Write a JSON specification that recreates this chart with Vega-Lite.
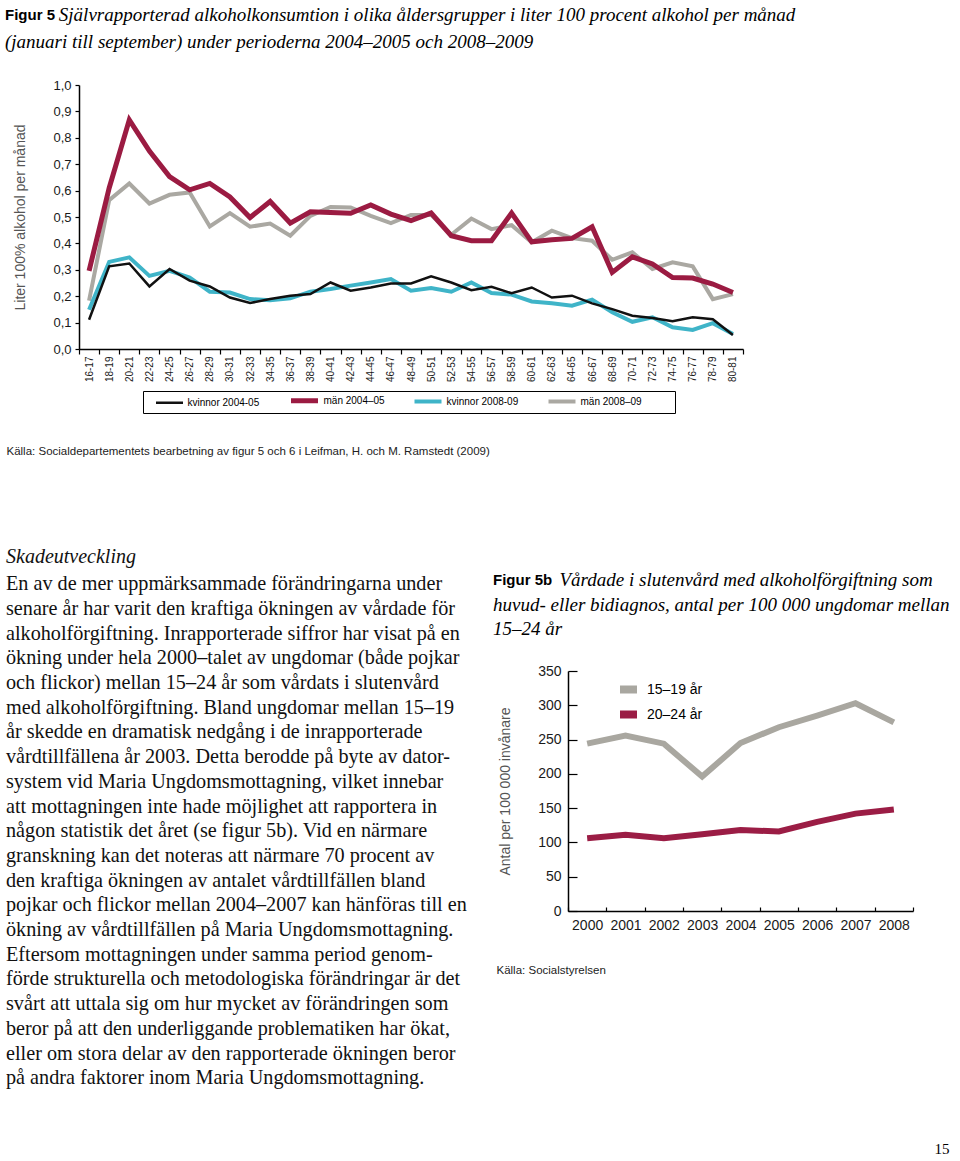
{
  "$schema": "https://vega.github.io/schema/vega-lite/v6.json",
  "background": "white",
  "padding": {"left": 5, "top": 6, "right": 0, "bottom": 0},
  "title": {"text": "15", "orient": "bottom", "anchor": "end", "font": "Liberation Serif", "fontSize": 15, "fontWeight": "normal", "color": "#000", "offset": 37},
  "columns": 1,
  "spacing": 78,
  "resolve": {
    "scale": {"color": "independent", "strokeWidth": "independent"},
    "legend": {"color": "independent", "strokeWidth": "independent"}
  },
  "config": {
    "view": {"stroke": null},
    "font": "Liberation Sans",
    "axis": {"grid": false, "domainColor": "#000", "tickColor": "#000", "domainWidth": 1.5, "tickWidth": 1.2, "labelColor": "#1a1a1a", "titleColor": "#555", "titleFontWeight": "normal"}
  },
  "concat": [
    {
      "width": 664,
      "height": 264,
      "title": {
        "text": "Figur 5",
        "subtitle": ["\u200b\u2003\u2003\u00a0\u00a0\u00a0\u200aSjälvrapporterad alkoholkonsumtion i olika åldersgrupper i liter 100 procent alkohol per månad", "(januari till september) under perioderna 2004–2005 och 2008–2009"],
        "anchor": "start", "frame": "bounds", "dx": -1,
        "font": "Liberation Sans", "fontSize": 15, "fontWeight": "bold", "color": "#000",
        "subtitleFont": "Liberation Serif", "subtitleFontSize": 19, "subtitleFontStyle": "italic", "subtitleColor": "#000", "subtitleLineHeight": 27, "subtitlePadding": -17,
        "offset": 25
      },
      "data": {"values": [
        {"alder": "16-17", "serie": "män 2008–09", "liter": 0.183},
        {"alder": "18-19", "serie": "män 2008–09", "liter": 0.564},
        {"alder": "20-21", "serie": "män 2008–09", "liter": 0.627},
        {"alder": "22-23", "serie": "män 2008–09", "liter": 0.551},
        {"alder": "24-25", "serie": "män 2008–09", "liter": 0.584},
        {"alder": "26-27", "serie": "män 2008–09", "liter": 0.593},
        {"alder": "28-29", "serie": "män 2008–09", "liter": 0.464},
        {"alder": "30-31", "serie": "män 2008–09", "liter": 0.515},
        {"alder": "32-33", "serie": "män 2008–09", "liter": 0.463},
        {"alder": "34-35", "serie": "män 2008–09", "liter": 0.475},
        {"alder": "36-37", "serie": "män 2008–09", "liter": 0.429},
        {"alder": "38-39", "serie": "män 2008–09", "liter": 0.504},
        {"alder": "40-41", "serie": "män 2008–09", "liter": 0.538},
        {"alder": "42-43", "serie": "män 2008–09", "liter": 0.536},
        {"alder": "44-45", "serie": "män 2008–09", "liter": 0.504},
        {"alder": "46-47", "serie": "män 2008–09", "liter": 0.477},
        {"alder": "48-49", "serie": "män 2008–09", "liter": 0.508},
        {"alder": "50-51", "serie": "män 2008–09", "liter": 0.508},
        {"alder": "52-53", "serie": "män 2008–09", "liter": 0.433},
        {"alder": "54-55", "serie": "män 2008–09", "liter": 0.494},
        {"alder": "56-57", "serie": "män 2008–09", "liter": 0.454},
        {"alder": "58-59", "serie": "män 2008–09", "liter": 0.469},
        {"alder": "60-61", "serie": "män 2008–09", "liter": 0.404},
        {"alder": "62-63", "serie": "män 2008–09", "liter": 0.448},
        {"alder": "64-65", "serie": "män 2008–09", "liter": 0.42},
        {"alder": "66-67", "serie": "män 2008–09", "liter": 0.41},
        {"alder": "68-69", "serie": "män 2008–09", "liter": 0.338},
        {"alder": "70-71", "serie": "män 2008–09", "liter": 0.366},
        {"alder": "72-73", "serie": "män 2008–09", "liter": 0.303},
        {"alder": "74-75", "serie": "män 2008–09", "liter": 0.328},
        {"alder": "76-77", "serie": "män 2008–09", "liter": 0.313},
        {"alder": "78-79", "serie": "män 2008–09", "liter": 0.189},
        {"alder": "80-81", "serie": "män 2008–09", "liter": 0.208},
        {"alder": "16-17", "serie": "män 2004–05", "liter": 0.296},
        {"alder": "18-19", "serie": "män 2004–05", "liter": 0.61},
        {"alder": "20-21", "serie": "män 2004–05", "liter": 0.868},
        {"alder": "22-23", "serie": "män 2004–05", "liter": 0.75},
        {"alder": "24-25", "serie": "män 2004–05", "liter": 0.653},
        {"alder": "26-27", "serie": "män 2004–05", "liter": 0.603},
        {"alder": "28-29", "serie": "män 2004–05", "liter": 0.627},
        {"alder": "30-31", "serie": "män 2004–05", "liter": 0.576},
        {"alder": "32-33", "serie": "män 2004–05", "liter": 0.498},
        {"alder": "34-35", "serie": "män 2004–05", "liter": 0.559},
        {"alder": "36-37", "serie": "män 2004–05", "liter": 0.477},
        {"alder": "38-39", "serie": "män 2004–05", "liter": 0.52},
        {"alder": "40-41", "serie": "män 2004–05", "liter": 0.517},
        {"alder": "42-43", "serie": "män 2004–05", "liter": 0.514},
        {"alder": "44-45", "serie": "män 2004–05", "liter": 0.546},
        {"alder": "46-47", "serie": "män 2004–05", "liter": 0.511},
        {"alder": "48-49", "serie": "män 2004–05", "liter": 0.486},
        {"alder": "50-51", "serie": "män 2004–05", "liter": 0.515},
        {"alder": "52-53", "serie": "män 2004–05", "liter": 0.429},
        {"alder": "54-55", "serie": "män 2004–05", "liter": 0.41},
        {"alder": "56-57", "serie": "män 2004–05", "liter": 0.41},
        {"alder": "58-59", "serie": "män 2004–05", "liter": 0.515},
        {"alder": "60-61", "serie": "män 2004–05", "liter": 0.406},
        {"alder": "62-63", "serie": "män 2004–05", "liter": 0.414},
        {"alder": "64-65", "serie": "män 2004–05", "liter": 0.419},
        {"alder": "66-67", "serie": "män 2004–05", "liter": 0.463},
        {"alder": "68-69", "serie": "män 2004–05", "liter": 0.29},
        {"alder": "70-71", "serie": "män 2004–05", "liter": 0.349},
        {"alder": "72-73", "serie": "män 2004–05", "liter": 0.322},
        {"alder": "74-75", "serie": "män 2004–05", "liter": 0.271},
        {"alder": "76-77", "serie": "män 2004–05", "liter": 0.269},
        {"alder": "78-79", "serie": "män 2004–05", "liter": 0.246},
        {"alder": "80-81", "serie": "män 2004–05", "liter": 0.214},
        {"alder": "16-17", "serie": "kvinnor 2008-09", "liter": 0.149},
        {"alder": "18-19", "serie": "kvinnor 2008-09", "liter": 0.33},
        {"alder": "20-21", "serie": "kvinnor 2008-09", "liter": 0.347},
        {"alder": "22-23", "serie": "kvinnor 2008-09", "liter": 0.277},
        {"alder": "24-25", "serie": "kvinnor 2008-09", "liter": 0.296},
        {"alder": "26-27", "serie": "kvinnor 2008-09", "liter": 0.271},
        {"alder": "28-29", "serie": "kvinnor 2008-09", "liter": 0.217},
        {"alder": "30-31", "serie": "kvinnor 2008-09", "liter": 0.214},
        {"alder": "32-33", "serie": "kvinnor 2008-09", "liter": 0.189},
        {"alder": "34-35", "serie": "kvinnor 2008-09", "liter": 0.185},
        {"alder": "36-37", "serie": "kvinnor 2008-09", "liter": 0.192},
        {"alder": "38-39", "serie": "kvinnor 2008-09", "liter": 0.217},
        {"alder": "40-41", "serie": "kvinnor 2008-09", "liter": 0.227},
        {"alder": "42-43", "serie": "kvinnor 2008-09", "liter": 0.24},
        {"alder": "44-45", "serie": "kvinnor 2008-09", "liter": 0.252},
        {"alder": "46-47", "serie": "kvinnor 2008-09", "liter": 0.265},
        {"alder": "48-49", "serie": "kvinnor 2008-09", "liter": 0.221},
        {"alder": "50-51", "serie": "kvinnor 2008-09", "liter": 0.231},
        {"alder": "52-53", "serie": "kvinnor 2008-09", "liter": 0.217},
        {"alder": "54-55", "serie": "kvinnor 2008-09", "liter": 0.252},
        {"alder": "56-57", "serie": "kvinnor 2008-09", "liter": 0.212},
        {"alder": "58-59", "serie": "kvinnor 2008-09", "liter": 0.206},
        {"alder": "60-61", "serie": "kvinnor 2008-09", "liter": 0.18},
        {"alder": "62-63", "serie": "kvinnor 2008-09", "liter": 0.173},
        {"alder": "64-65", "serie": "kvinnor 2008-09", "liter": 0.164},
        {"alder": "66-67", "serie": "kvinnor 2008-09", "liter": 0.187},
        {"alder": "68-69", "serie": "kvinnor 2008-09", "liter": 0.139},
        {"alder": "70-71", "serie": "kvinnor 2008-09", "liter": 0.103},
        {"alder": "72-73", "serie": "kvinnor 2008-09", "liter": 0.12},
        {"alder": "74-75", "serie": "kvinnor 2008-09", "liter": 0.082},
        {"alder": "76-77", "serie": "kvinnor 2008-09", "liter": 0.072},
        {"alder": "78-79", "serie": "kvinnor 2008-09", "liter": 0.098},
        {"alder": "80-81", "serie": "kvinnor 2008-09", "liter": 0.057},
        {"alder": "16-17", "serie": "kvinnor 2004-05", "liter": 0.111},
        {"alder": "18-19", "serie": "kvinnor 2004-05", "liter": 0.313},
        {"alder": "20-21", "serie": "kvinnor 2004-05", "liter": 0.324},
        {"alder": "22-23", "serie": "kvinnor 2004-05", "liter": 0.237},
        {"alder": "24-25", "serie": "kvinnor 2004-05", "liter": 0.303},
        {"alder": "26-27", "serie": "kvinnor 2004-05", "liter": 0.259},
        {"alder": "28-29", "serie": "kvinnor 2004-05", "liter": 0.237},
        {"alder": "30-31", "serie": "kvinnor 2004-05", "liter": 0.195},
        {"alder": "32-33", "serie": "kvinnor 2004-05", "liter": 0.174},
        {"alder": "34-35", "serie": "kvinnor 2004-05", "liter": 0.189},
        {"alder": "36-37", "serie": "kvinnor 2004-05", "liter": 0.202},
        {"alder": "38-39", "serie": "kvinnor 2004-05", "liter": 0.208},
        {"alder": "40-41", "serie": "kvinnor 2004-05", "liter": 0.252},
        {"alder": "42-43", "serie": "kvinnor 2004-05", "liter": 0.221},
        {"alder": "44-45", "serie": "kvinnor 2004-05", "liter": 0.233},
        {"alder": "46-47", "serie": "kvinnor 2004-05", "liter": 0.248},
        {"alder": "48-49", "serie": "kvinnor 2004-05", "liter": 0.248},
        {"alder": "50-51", "serie": "kvinnor 2004-05", "liter": 0.275},
        {"alder": "52-53", "serie": "kvinnor 2004-05", "liter": 0.252},
        {"alder": "54-55", "serie": "kvinnor 2004-05", "liter": 0.223},
        {"alder": "56-57", "serie": "kvinnor 2004-05", "liter": 0.236},
        {"alder": "58-59", "serie": "kvinnor 2004-05", "liter": 0.211},
        {"alder": "60-61", "serie": "kvinnor 2004-05", "liter": 0.233},
        {"alder": "62-63", "serie": "kvinnor 2004-05", "liter": 0.195},
        {"alder": "64-65", "serie": "kvinnor 2004-05", "liter": 0.202},
        {"alder": "66-67", "serie": "kvinnor 2004-05", "liter": 0.173},
        {"alder": "68-69", "serie": "kvinnor 2004-05", "liter": 0.151},
        {"alder": "70-71", "serie": "kvinnor 2004-05", "liter": 0.126},
        {"alder": "72-73", "serie": "kvinnor 2004-05", "liter": 0.117},
        {"alder": "74-75", "serie": "kvinnor 2004-05", "liter": 0.105},
        {"alder": "76-77", "serie": "kvinnor 2004-05", "liter": 0.12},
        {"alder": "78-79", "serie": "kvinnor 2004-05", "liter": 0.113},
        {"alder": "80-81", "serie": "kvinnor 2004-05", "liter": 0.053}
      ]},
      "mark": {"type": "line"},
      "encoding": {
        "x": {
          "field": "alder", "type": "ordinal",
          "scale": {"type": "band", "paddingInner": 0, "paddingOuter": 0},
          "axis": {
            "title": "Källa: Socialdepartementets bearbetning av figur 5 och 6 i Leifman, H. och M. Ramstedt (2009)",
            "titleX": -73, "titleY": 105, "titleAlign": "left", "titleAnchor": "start", "titleBaseline": "alphabetic",
            "titleFontSize": 11.5, "titleColor": "#222",
            "tickBand": "extent", "tickSize": 5, "labelAngle": -90, "labelAlign": "right", "labelBaseline": "middle",
            "labelPadding": 2, "labelFontSize": 10
          }
        },
        "y": {
          "field": "liter", "type": "quantitative",
          "scale": {"domain": [0, 1], "nice": false},
          "axis": {
            "title": "Liter 100% alkohol per månad",
            "values": [0, 0.1, 0.2, 0.3, 0.4, 0.5, 0.6, 0.7, 0.8, 0.9, 1],
            "labelExpr": "replace(format(datum.value, '.1f'), '.', ',')",
            "tickSize": 4, "labelPadding": 4, "labelFontSize": 13,
            "titleFontSize": 14, "titlePadding": 25
          }
        },
        "color": {
          "field": "serie", "type": "nominal",
          "scale": {"domain": ["kvinnor 2004-05", "män 2004–05", "kvinnor 2008-09", "män 2008–09"], "range": ["#111111", "#9b1b42", "#3fb4c8", "#aaa8a2"]},
          "legend": {
            "title": "\u00a0", "titleOrient": "left", "titlePadding": 18, "titleFontSize": 10,
            "orient": "none", "legendX": 64, "legendY": 306, "direction": "horizontal",
            "strokeColor": "#000", "padding": 2, "columnPadding": 21,
            "symbolType": "M-2.7,0H2.7", "symbolSize": 100, "labelFontSize": 10, "labelOffset": 11.5,
            "labelExpr": "datum.label == 'män 2008–09' ? datum.label + '\u00a0\u00a0\u00a0\u00a0\u00a0\u00a0\u00a0\u00a0\u00a0\u00a0\u00a0\u200b' : datum.label"
          }
        },
        "strokeWidth": {
          "field": "serie", "type": "nominal",
          "scale": {"type": "ordinal", "domain": ["kvinnor 2004-05", "män 2004–05", "kvinnor 2008-09", "män 2008–09"], "range": [2.5, 5, 4, 4]},
          "legend": {
            "title": "\u00a0", "titleOrient": "left", "titlePadding": 18, "titleFontSize": 10,
            "orient": "none", "legendX": 64, "legendY": 306, "direction": "horizontal",
            "strokeColor": "#000", "padding": 2, "columnPadding": 21,
            "symbolType": "M-2.7,0H2.7", "symbolSize": 100, "labelFontSize": 10, "labelOffset": 11.5,
            "labelExpr": "datum.label == 'män 2008–09' ? datum.label + '\u00a0\u00a0\u00a0\u00a0\u00a0\u00a0\u00a0\u00a0\u00a0\u00a0\u00a0\u200b' : datum.label"
          }
        }
      }
    },
    {
      "columns": 2,
      "align": "none",
      "spacing": {"row": 0, "column": 17},
      "resolve": {
        "scale": {"color": "independent"},
        "legend": {"color": "independent"}
      },
      "concat": [
        {
          "width": 1,
          "height": 1,
          "data": {"values": [{}]},
          "mark": {"type": "text", "text": ""},
          "encoding": {}
        },
        {
          "width": 1,
          "height": 1,
          "data": {"values": [{}]},
          "mark": {"type": "text", "text": ""},
          "encoding": {}
        },
        {
          "width": 397,
          "height": 1,
          "data": {"values": [{}]},
          "mark": {"type": "text", "text": ""},
          "encoding": {},
          "title": {
            "text": "Skadeutveckling",
            "subtitle": [
              "En av de mer uppmärksammade förändringarna under",
              "senare år har varit den kraftiga ökningen av vårdade för",
              "alkoholförgiftning. Inrapporterade siffror har visat på en",
              "ökning under hela 2000–talet av ungdomar (både pojkar",
              "och flickor) mellan 15–24 år som vårdats i slutenvård",
              "med alkoholförgiftning. Bland ungdomar mellan 15–19",
              "år skedde en dramatisk nedgång i de inrapporterade",
              "vårdtillfällena år 2003. Detta berodde på byte av dator-",
              "system vid Maria Ungdomsmottagning, vilket innebar",
              "att mottagningen inte hade möjlighet att rapportera in",
              "någon statistik det året (se figur 5b). Vid en närmare",
              "granskning kan det noteras att närmare 70 procent av",
              "den kraftiga ökningen av antalet vårdtillfällen bland",
              "pojkar och flickor mellan 2004–2007 kan hänföras till en",
              "ökning av vårdtillfällen på Maria Ungdomsmottagning.",
              "Eftersom mottagningen under samma period genom-",
              "förde strukturella och metodologiska förändringar är det",
              "svårt att uttala sig om hur mycket av förändringen som",
              "beror på att den underliggande problematiken har ökat,",
              "eller om stora delar av den rapporterade ökningen beror",
              "på andra faktorer inom Maria Ungdomsmottagning."
            ],
            "anchor": "start", "frame": "group", "dx": -73,
            "font": "Liberation Serif", "fontSize": 20, "fontStyle": "italic", "fontWeight": "normal", "color": "#111",
            "subtitleFont": "Liberation Serif", "subtitleFontSize": 20.2, "subtitleColor": "#111", "subtitleLineHeight": 24.7, "subtitlePadding": 7,
            "offset": 5
          }
        },
        {
          "width": 345,
          "height": 240,
          "title": {
            "text": ["\u200b", "Figur 5b"],
            "subtitle": ["\u200b\u2003\u2003\u2003\u00a0\u00a0Vårdade i slutenvård med alkoholförgiftning som", "huvud- eller bidiagnos, antal per 100 000 ungdomar mellan", "15–24 år"],
            "anchor": "start", "frame": "bounds", "dx": -3, "lineHeight": 26,
            "font": "Liberation Sans", "fontSize": 15, "fontWeight": "bold", "color": "#000",
            "subtitleFont": "Liberation Serif", "subtitleFontSize": 19, "subtitleFontStyle": "italic", "subtitleColor": "#000", "subtitleLineHeight": 24.5, "subtitlePadding": -17,
            "offset": 25
          },
          "data": {"values": [
            {"ar": "2000", "grupp": "15–19 år", "antal": 244},
            {"ar": "2001", "grupp": "15–19 år", "antal": 256},
            {"ar": "2002", "grupp": "15–19 år", "antal": 244},
            {"ar": "2003", "grupp": "15–19 år", "antal": 196},
            {"ar": "2004", "grupp": "15–19 år", "antal": 245},
            {"ar": "2005", "grupp": "15–19 år", "antal": 268},
            {"ar": "2006", "grupp": "15–19 år", "antal": 285},
            {"ar": "2007", "grupp": "15–19 år", "antal": 303},
            {"ar": "2008", "grupp": "15–19 år", "antal": 275},
            {"ar": "2000", "grupp": "20–24 år", "antal": 106},
            {"ar": "2001", "grupp": "20–24 år", "antal": 111},
            {"ar": "2002", "grupp": "20–24 år", "antal": 106},
            {"ar": "2003", "grupp": "20–24 år", "antal": 112},
            {"ar": "2004", "grupp": "20–24 år", "antal": 118},
            {"ar": "2005", "grupp": "20–24 år", "antal": 116},
            {"ar": "2006", "grupp": "20–24 år", "antal": 130},
            {"ar": "2007", "grupp": "20–24 år", "antal": 142},
            {"ar": "2008", "grupp": "20–24 år", "antal": 148}
          ]},
          "mark": {"type": "line", "strokeWidth": 6},
          "encoding": {
            "x": {
              "field": "ar", "type": "ordinal",
              "scale": {"type": "band", "paddingInner": 0, "paddingOuter": 0},
              "axis": {
                "title": "Källa: Socialstyrelsen",
                "titleX": -72, "titleY": 62, "titleAlign": "left", "titleAnchor": "start", "titleBaseline": "alphabetic",
                "titleFontSize": 11.5, "titleColor": "#222",
                "tickBand": "extent", "tickSize": -4, "labelPadding": 11, "labelAngle": 0, "labelFontSize": 14
              }
            },
            "y": {
              "field": "antal", "type": "quantitative",
              "scale": {"domain": [0, 350], "nice": false},
              "axis": {
                "title": "Antal per 100 000 invånare",
                "values": [0, 50, 100, 150, 200, 250, 300, 350],
                "tickSize": -9, "labelPadding": 16, "labelFontSize": 14,
                "titleFontSize": 14, "titlePadding": 25
              }
            },
            "color": {
              "field": "grupp", "type": "nominal",
              "scale": {"domain": ["15–19 år", "20–24 år"], "range": ["#a9a7a0", "#9b1d45"]},
              "legend": {
                "title": null, "orient": "none", "legendX": 52, "legendY": 10,
                "symbolType": "M-2,0H2", "symbolSize": 72, "symbolStrokeWidth": 8,
                "labelFontSize": 14, "labelOffset": 10, "rowPadding": -13
              }
            }
          }
        }
      ]
    }
  ]
}
